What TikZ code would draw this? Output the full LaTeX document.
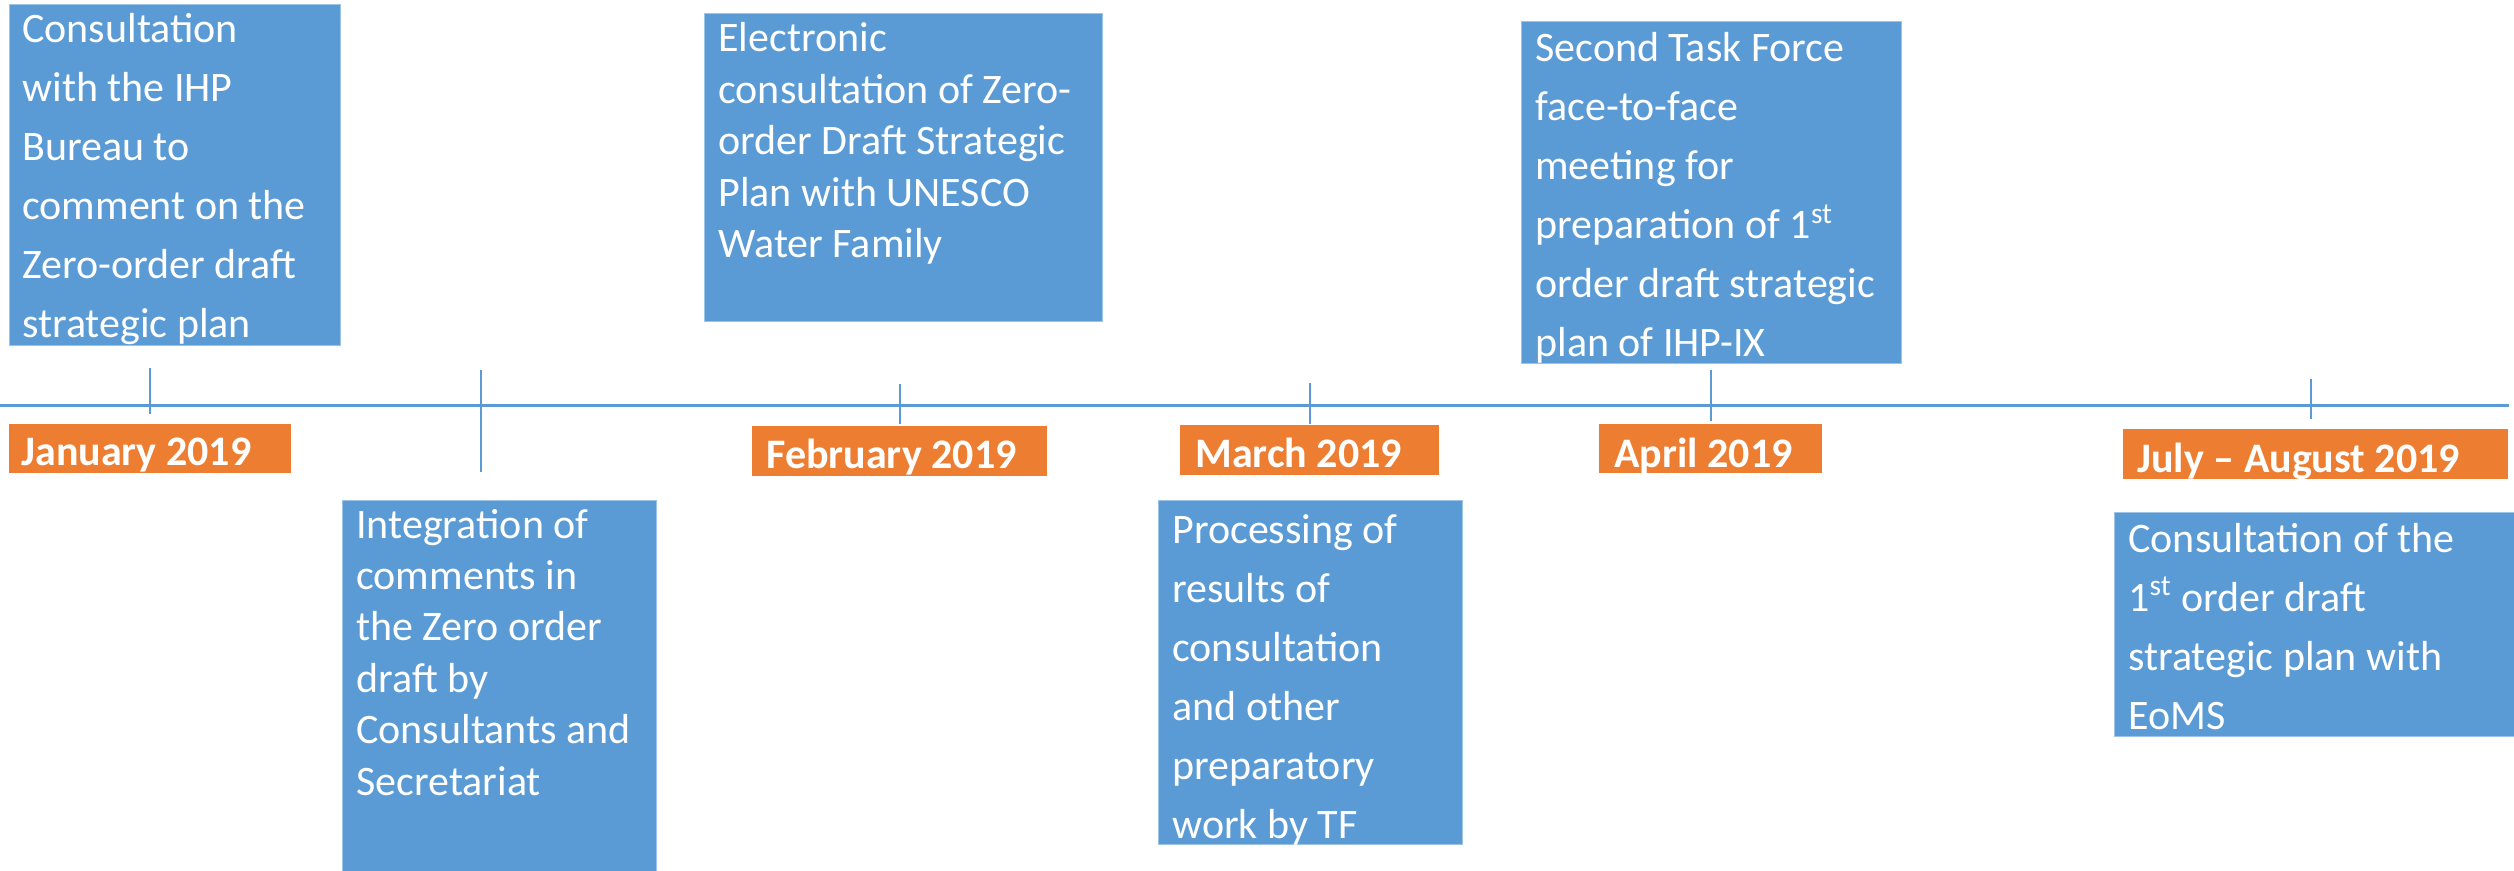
\documentclass[tikz,border=0pt]{standalone}
\usepackage{fontspec}
\setmainfont{Carlito}
\usepackage{tikz}
\usetikzlibrary{positioning}

\definecolor{evblue}{HTML}{5B9BD5}
\definecolor{evorange}{HTML}{ED7D31}

\tikzset{
  evbox/.style={fill=evblue, draw=evblue!60!white, line width=0.5pt, anchor=north west, inner sep=0pt},
  datebox/.style={fill=evorange, anchor=north west, inner sep=0pt},
  evtext/.style={anchor=base west, inner sep=0pt, text=white, font=\fontsize{21}{29.5}\selectfont},
  evtight/.style={evtext, font=\fontsize{21}{25.7}\selectfont},
  datetext/.style={anchor=base west, inner sep=0pt, text=white, font=\bfseries\fontsize{21}{25}\selectfont},
  tickline/.style={draw=evblue, line width=0.7pt},
}

\begin{document}
\begin{tikzpicture}

\begin{scope}[x=0.5pt,y=-0.5pt]
  \useasboundingbox (0,0) rectangle (2514,871);

  % time line
  \coordinate (tlstart) at (0,405.5);
  \coordinate (tlend) at (2509,405.5);
  \draw[evblue, line width=1.2pt] (tlstart) -- (tlend);

  \foreach \x/\a/\b in {150/368/414, 481/370/472, 900/384/424, 1310/383/424, 1711/370/421, 2311/379/419}
    \draw[tickline] (\x,\a) -- (\x,\b);

  % event boxes
  \node[evbox, minimum width=165.5pt, minimum height=170.5pt] (bureau) at (9,4) {};
  \node[evbox, minimum width=157pt, minimum height=185.5pt] (integ) at (342,500) {};
  \node[evbox, minimum width=199pt, minimum height=154pt] (elec) at (704,13) {};
  \node[evbox, minimum width=152pt, minimum height=172pt] (proc) at (1158,500) {};
  \node[evbox, minimum width=190pt, minimum height=171pt] (second) at (1521,21) {};
  \node[evbox, minimum width=200pt, minimum height=112pt] (eoms) at (2114,512) {};

  \node[evtext] (bureautxt) at (22,43) {\parbox[t]{160pt}{\raggedright Consultation\\ with the IHP\\ Bureau to\\ comment on the\\ Zero-order draft\\ strategic plan}};
  \node[evtight] (integtxt) at (356,538) {\parbox[t]{155pt}{\raggedright Integration of\\ comments in\\ the Zero order\\ draft by\\ Consultants and\\ Secretariat}};
  \node[evtight] (electxt) at (718,52) {\parbox[t]{195pt}{\raggedright Electronic\\ consultation of Zero-\\ order Draft Strategic\\ Plan with UNESCO\\ Water Family}};
  \node[evtext] (proctxt) at (1172,543) {\parbox[t]{150pt}{\raggedright Processing of\\ results of\\ consultation\\ and other\\ preparatory\\ work by TF}};
  \node[evtext] (secondtxt) at (1535,62) {\parbox[t]{190pt}{\raggedright Second Task Force\\ face-to-face\\ meeting for\\ preparation of 1\textsuperscript{st}\\ order draft strategic\\ plan of IHP-IX}};
  \node[evtext] (eomstxt) at (2128,552) {\parbox[t]{190pt}{\raggedright Consultation of the\\ 1\textsuperscript{st} order draft\\ strategic plan with\\ EoMS}};

  % dates
  \node[datebox, minimum width=141pt, minimum height=24.5pt] (jan) at (9,424) {};
  \node[datebox, minimum width=147.5pt, minimum height=25pt] (feb) at (752,426) {};
  \node[datebox, minimum width=129.5pt, minimum height=25pt] (mar) at (1180,425) {};
  \node[datebox, minimum width=111.5pt, minimum height=24.5pt] (apr) at (1599,424) {};
  \node[datebox, minimum width=192.5pt, minimum height=25pt] (jul) at (2123,429) {};

  \node[datetext] (jantxt) at (21,465) {January 2019};
  \node[datetext] (febtxt) at (766,468) {February 2019};
  \node[datetext] (martxt) at (1195,467) {March 2019};
  \node[datetext] (aprtxt) at (1614,467) {April 2019};
  \node[datetext] (jultxt) at (2137,472) {July -- August 2019};
\end{scope}

\end{tikzpicture}
\end{document}
